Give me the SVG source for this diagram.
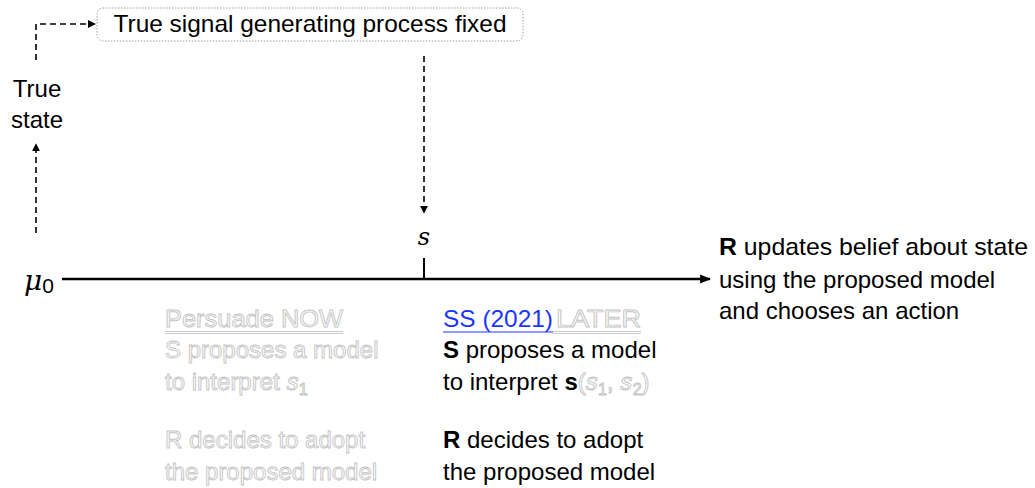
<svg xmlns="http://www.w3.org/2000/svg" width="1035" height="488" viewBox="0 0 1035 488">
<style>
text{font-family:"Liberation Sans","DejaVu Sans",sans-serif;font-size:24px;fill:#000}
.math{font-family:"DejaVu Serif","Liberation Serif",serif;font-style:italic}
.faded{fill:#fff;stroke:#c4c4c4;stroke-width:0.9}
.dash{fill:none;stroke:#000;stroke-width:1.6;stroke-dasharray:6,4}
.link{fill:#1a35ff}
</style>
<defs>
<marker id="ah" viewBox="0 0 10 10" refX="9" refY="5" markerWidth="8" markerHeight="8" markerUnits="userSpaceOnUse" orient="auto">
<path d="M0,0 L10,5 L0,10 z" fill="#000"/>
</marker>
<marker id="ahb" viewBox="0 0 10 10" refX="9" refY="5" markerWidth="11" markerHeight="11" markerUnits="userSpaceOnUse" orient="auto">
<path d="M0,1 L10,5 L0,9 z" fill="#000"/>
</marker>
</defs>
<g id="connectors">
<path class="dash" d="M36,60 V24 H95" marker-end="url(#ah)"/>
<path class="dash" d="M36,233 V144" marker-end="url(#ah)"/>
<path class="dash" d="M424,56 V213" marker-end="url(#ah)"/>
<path d="M62,279 H710" stroke="#000" stroke-width="2.6" fill="none" marker-end="url(#ahb)"/>
<path d="M424,258 V279" stroke="#000" stroke-width="2" fill="none"/>
</g>
<g id="process">
<rect x="97" y="8" width="426" height="33" rx="6" fill="#fff" stroke="#888" stroke-width="0.8" stroke-dasharray="1.5,1.5"/>
<text x="310" y="32" text-anchor="middle" textLength="393" lengthAdjust="spacingAndGlyphs">True signal generating process fixed</text>
</g>
<g id="true-state">
<text x="37" y="97" text-anchor="middle">True</text>
<text x="37" y="128" text-anchor="middle">state</text>
</g>
<g id="mu0">
<text x="24" y="290"><tspan class="math" font-size="28" font-style="normal">μ</tspan><tspan font-size="21" dy="3">0</tspan></text>
</g>
<g id="signal">
<text class="math" x="424" y="245" text-anchor="middle" font-size="24">s</text>
</g>
<g id="update">
<text x="719" y="255" textLength="309" lengthAdjust="spacingAndGlyphs"><tspan font-weight="bold">R</tspan> updates belief about state</text>
<text x="719" y="288">using the proposed model</text>
<text x="719" y="319">and chooses an action</text>
</g>
<g id="now">
<text class="faded" x="165" y="327" textLength="178" lengthAdjust="spacingAndGlyphs">Persuade NOW</text>
<path d="M165,331.5 H343 M165,333.5 H343" stroke="#c4c4c4" stroke-width="0.9"/>
<text class="faded" x="165" y="358">S proposes a model</text>
<text class="faded" x="165" y="390">to interpret <tspan class="math">s</tspan><tspan font-size="16" dy="5">1</tspan></text>
<text class="faded" x="165" y="448">R decides to adopt</text>
<text class="faded" x="165" y="480">the proposed model</text>
</g>
<g id="later">
<text class="link" x="443" y="327" textLength="110" lengthAdjust="spacingAndGlyphs">SS (2021)</text>
<path d="M443,332 H553" stroke="#1a35ff" stroke-width="1.2"/>
<text class="faded" x="556" y="327" textLength="85" lengthAdjust="spacingAndGlyphs">LATER</text>
<path d="M553,331.5 H641 M553,333.5 H641" stroke="#c4c4c4" stroke-width="0.9"/>
<text x="443" y="358"><tspan font-weight="bold">S</tspan> proposes a model</text>
<text x="443" y="390">to interpret <tspan font-weight="bold">s</tspan><tspan class="faded"><tspan font-family="Liberation Sans">(</tspan><tspan class="math">s</tspan><tspan font-size="16" dy="5">1</tspan><tspan dy="-5">, </tspan><tspan class="math">s</tspan><tspan font-size="16" dy="5">2</tspan><tspan dy="-5">)</tspan></tspan></text>
<text x="443" y="448"><tspan font-weight="bold">R</tspan> decides to adopt</text>
<text x="443" y="480">the proposed model</text>
</g>
</svg>
